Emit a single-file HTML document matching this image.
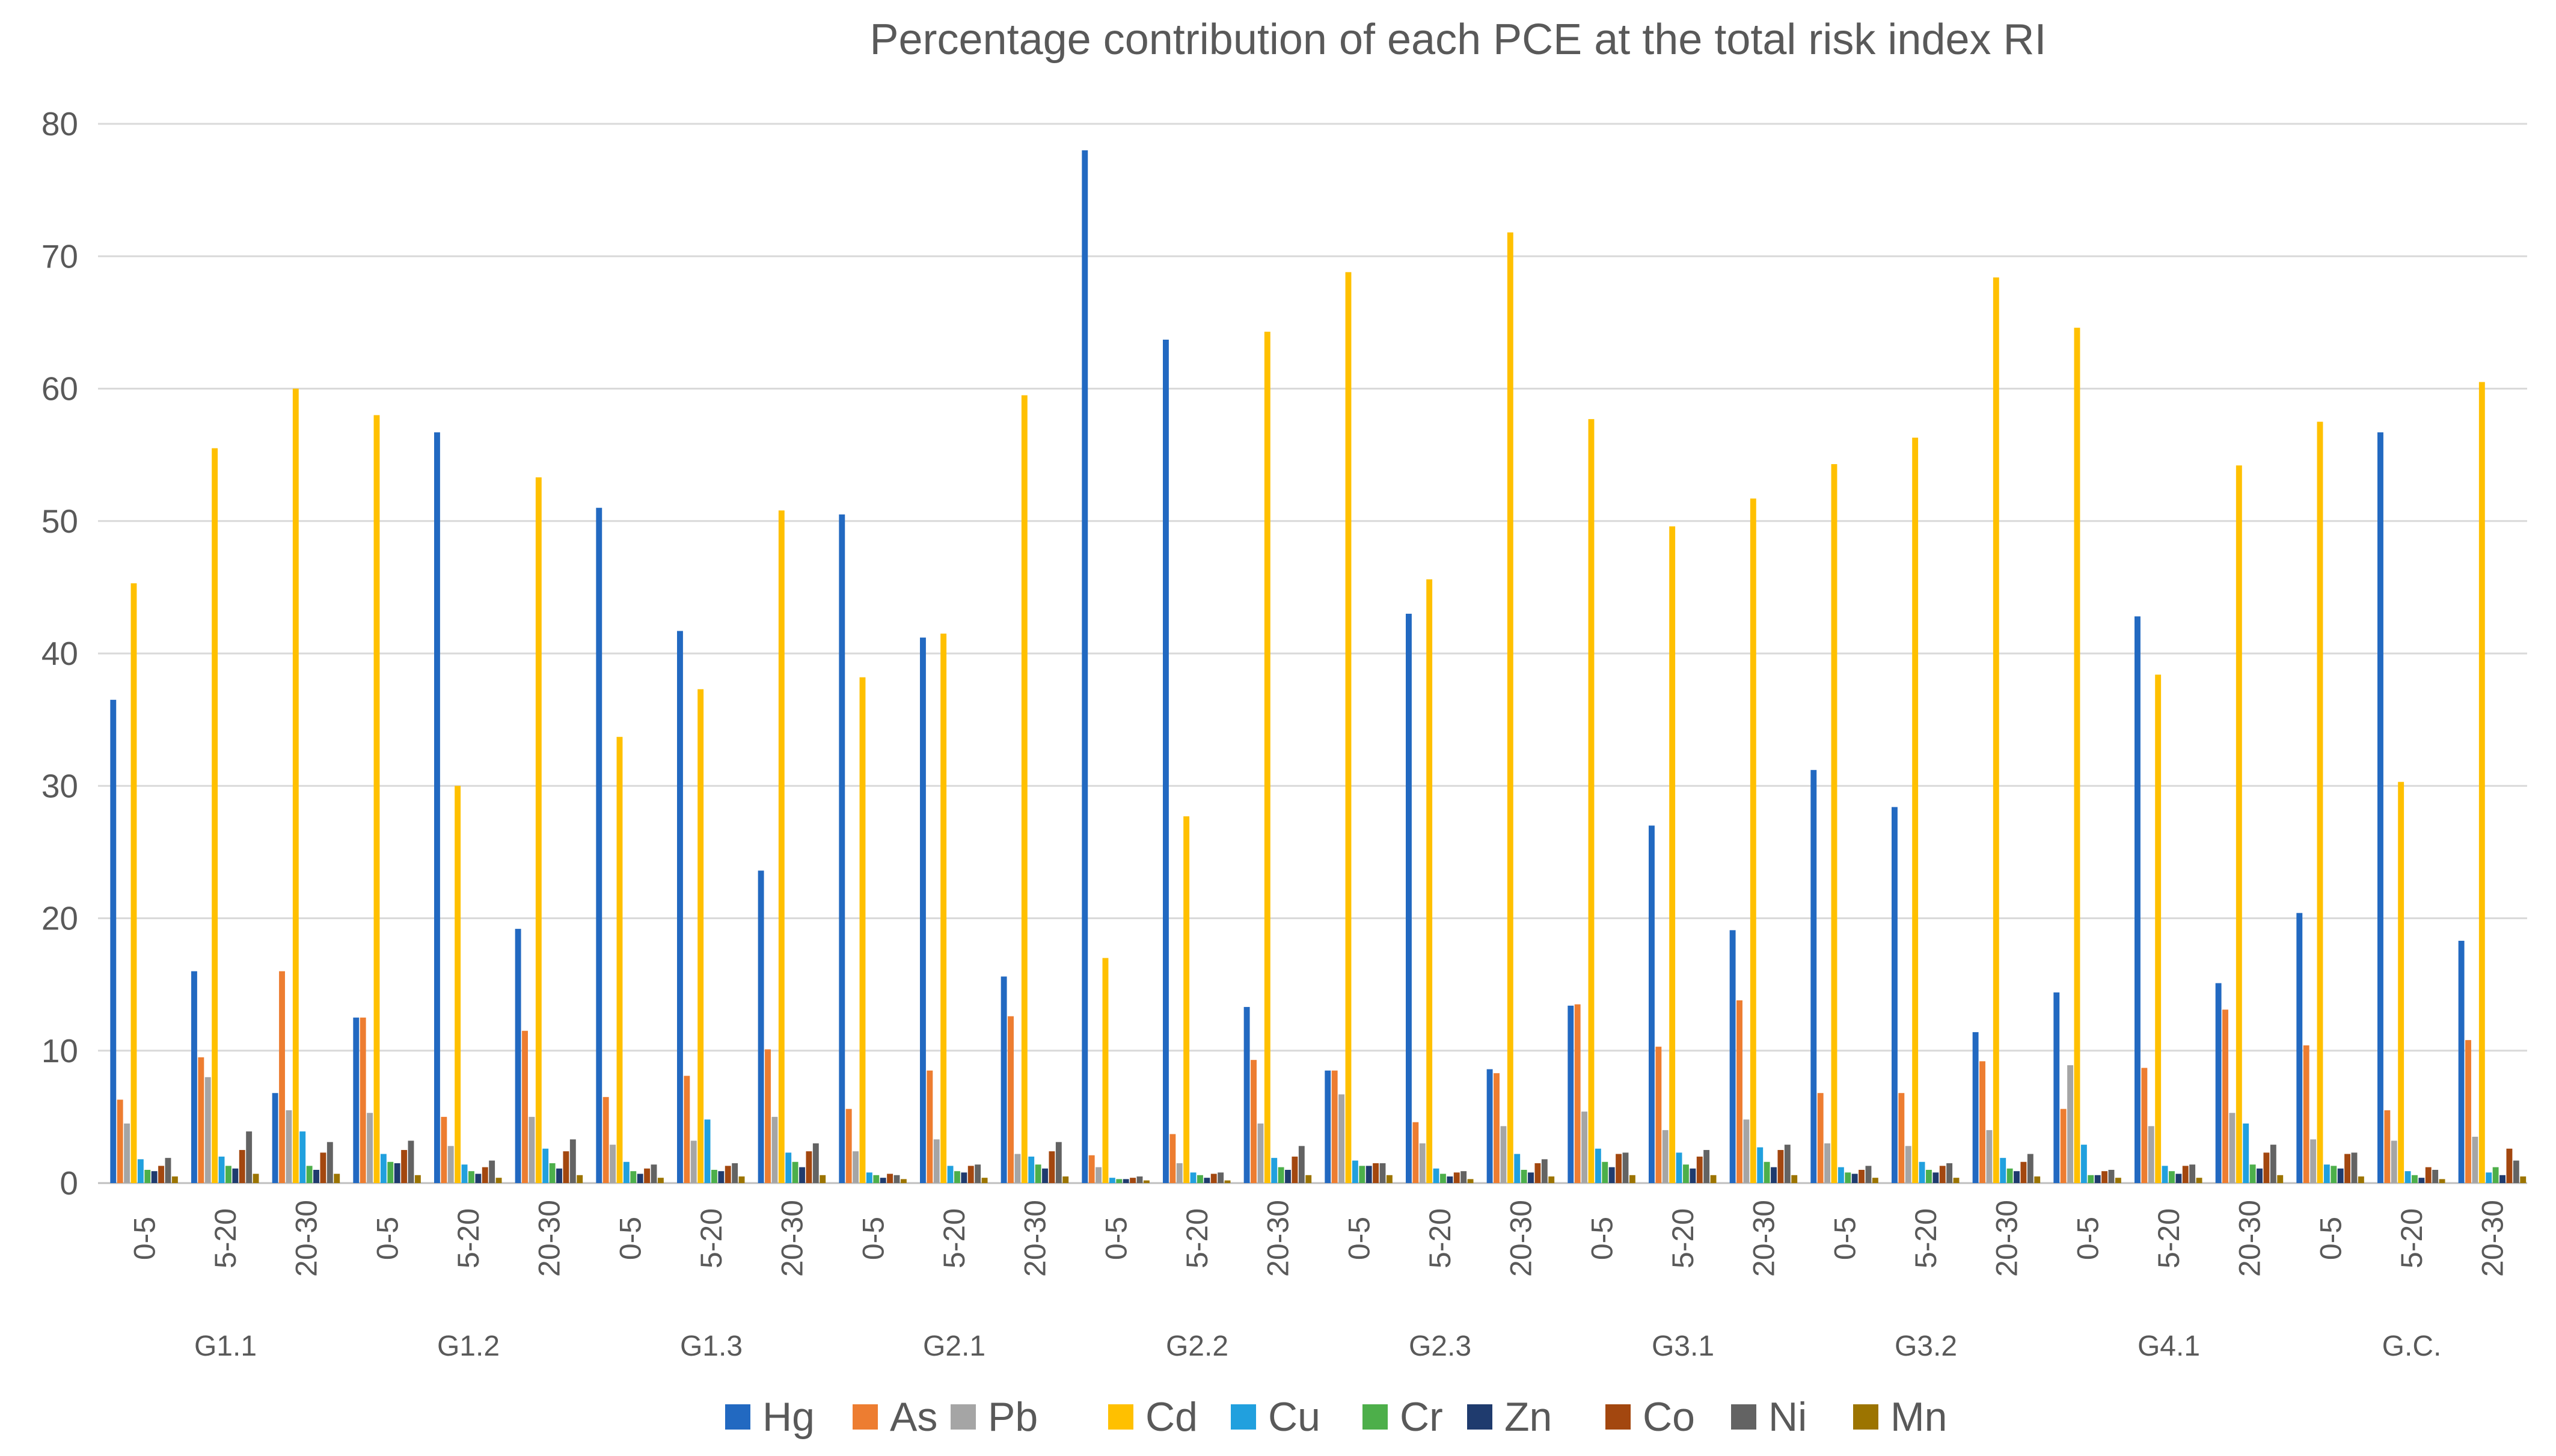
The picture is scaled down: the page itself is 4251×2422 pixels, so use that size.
<!DOCTYPE html>
<html><head><meta charset="utf-8"><style>
html,body{margin:0;padding:0;background:#fff}
svg{display:block;font-family:"Liberation Sans","DejaVu Sans",sans-serif}
</style></head><body>
<svg id="chart" width="4251" height="2422" viewBox="0 0 4251 2422" xmlns="http://www.w3.org/2000/svg">
<rect width="4251" height="2422" fill="#fff"/>
<text x="2425" y="90" text-anchor="middle" font-size="72" fill="#595959">Percentage contribution of each PCE at the total risk index RI</text>
<g id="grid"></g><g id="bars"></g><g id="labels"></g><g id="legend"></g>
</svg>
<script>
const groups = ["G1.1","G1.2","G1.3","G2.1","G2.2","G2.3","G3.1","G3.2","G4.1","G.C."];
const depths = ["0-5","5-20","20-30"];
const seriesNames = ["Hg","As","Pb","Cd","Cu","Cr","Zn","Co","Ni","Mn"];
const yTicks = [0,10,20,30,40,50,60,70,80];
const Hg = [36.5,16,6.8,12.5,56.7,19.2,51,41.7,23.6,50.5,41.2,15.6,78,63.7,13.3,8.5,43,8.6,13.4,27,19.1,31.2,28.4,11.4,14.4,42.8,15.1,20.4,56.7,18.3];
const As = [6.3,9.5,16,12.5,5,11.5,6.5,8.1,10.1,5.6,8.5,12.6,2.1,3.7,9.3,8.5,4.6,8.3,13.5,10.3,13.8,6.8,6.8,9.2,5.6,8.7,13.1,10.4,5.5,10.8];
const Pb = [4.5,8,5.5,5.3,2.8,5,2.9,3.2,5,2.4,3.3,2.2,1.2,1.5,4.5,6.7,3,4.3,5.4,4,4.8,3,2.8,4,8.9,4.3,5.3,3.3,3.2,3.5];
const Cd = [45.3,55.5,60,58,30,53.3,33.7,37.3,50.8,38.2,41.5,59.5,17,27.7,64.3,68.8,45.6,71.8,57.7,49.6,51.7,54.3,56.3,68.4,64.6,38.4,54.2,57.5,30.3,60.5];
const Cu = [1.8,2,3.9,2.2,1.4,2.6,1.6,4.8,2.3,0.8,1.3,2,0.4,0.8,1.9,1.7,1.1,2.2,2.6,2.3,2.7,1.2,1.6,1.9,2.9,1.3,4.5,1.4,0.9,0.8];
const Cr = [1,1.3,1.3,1.6,0.9,1.5,0.9,1,1.6,0.6,0.9,1.4,0.3,0.6,1.2,1.3,0.7,1,1.6,1.4,1.6,0.8,1,1.1,0.6,0.9,1.4,1.3,0.6,1.2];
const Zn = [0.9,1.1,1,1.5,0.7,1.1,0.7,0.9,1.2,0.4,0.8,1.1,0.3,0.4,1,1.3,0.5,0.8,1.2,1.1,1.2,0.7,0.8,0.9,0.6,0.7,1.1,1.1,0.4,0.6];
const Co = [1.3,2.5,2.3,2.5,1.2,2.4,1.1,1.3,2.4,0.7,1.3,2.4,0.4,0.7,2,1.5,0.8,1.5,2.2,2,2.5,1,1.3,1.6,0.9,1.3,2.3,2.2,1.2,2.6];
const Ni = [1.9,3.9,3.1,3.2,1.7,3.3,1.4,1.5,3,0.6,1.4,3.1,0.5,0.8,2.8,1.5,0.9,1.8,2.3,2.5,2.9,1.3,1.5,2.2,1,1.4,2.9,2.3,1,1.7];
const Mn = [0.5,0.7,0.7,0.6,0.4,0.6,0.4,0.5,0.6,0.3,0.4,0.5,0.2,0.2,0.6,0.6,0.3,0.5,0.6,0.6,0.6,0.4,0.4,0.5,0.4,0.4,0.6,0.5,0.3,0.5];
const seriesData = [Hg,As,Pb,Cd,Cu,Cr,Zn,Co,Ni,Mn];
const colors = ["#2269C1","#ED7D31","#A5A5A5","#FFC000","#21A0DE","#4DAF4A","#1F3B6E","#A3470F","#636363","#9C7400"];

const NS="http://www.w3.org/2000/svg";
const X0=163,X1=4203,Y0=1968,YMAX=80,YTOP=206,OFF=10;
const n=Hg.length, slot=(X1-X0)/n, barW=11.4;
const yS=v=>Y0-(v/YMAX)*(Y0-YTOP);
const xC=i=>X0+OFF+slot*(i+0.5);
function mk(tag,attrs,parent){const e=document.createElementNS(NS,tag);for(const k in attrs)e.setAttribute(k,attrs[k]);parent.appendChild(e);return e;}
const grid=document.getElementById('grid'),bars=document.getElementById('bars'),labels=document.getElementById('labels'),legend=document.getElementById('legend');
yTicks.forEach(t=>{
  const l=mk('line',{x1:X0,x2:X1,y1:yS(t),y2:yS(t),stroke:t===0?'#bfbfbf':'#d9d9d9','stroke-width':3},grid);
  
  
  const tx=mk('text',{x:130,y:yS(t)+19,'text-anchor':'end','font-size':55,fill:'#595959'},labels);
  tx.textContent=t;
  
  
});
for(let i=0;i<n;i++){
  seriesData.forEach((arr,s)=>{
    const x=xC(i)-5*barW+s*barW, y=yS(arr[i]);
    const r=mk('rect',{x:x,y:y,width:barW-1.5,height:Y0-y,fill:colors[s]},bars);
    
    
  });
  const lx=xC(i)+17, ly=2060;
  const t=mk('text',{x:lx,y:ly,'text-anchor':'middle','font-size':50,fill:'#595959',transform:`rotate(-90 ${lx} ${ly})`},labels);
  t.textContent=depths[i%3];
  
  
}
groups.forEach((g,k)=>{
  const t=mk('text',{x:xC(k*3+1),y:2255,'text-anchor':'middle','font-size':48,fill:'#595959'},labels);
  t.textContent=g;
  
  
});
const legX=[1206,1418,1581,1843,2047,2266,2440,2670,2879,3082];
seriesNames.forEach((nm,s)=>{
  const g=mk('g',{},legend);
  
  
  mk('rect',{x:legX[s],y:2336,width:42,height:42,fill:colors[s]},g);
  const t=mk('text',{x:legX[s]+62,y:2380,'font-size':68,fill:'#595959'},g);
  t.textContent=nm;
});
</script>
</body></html>
